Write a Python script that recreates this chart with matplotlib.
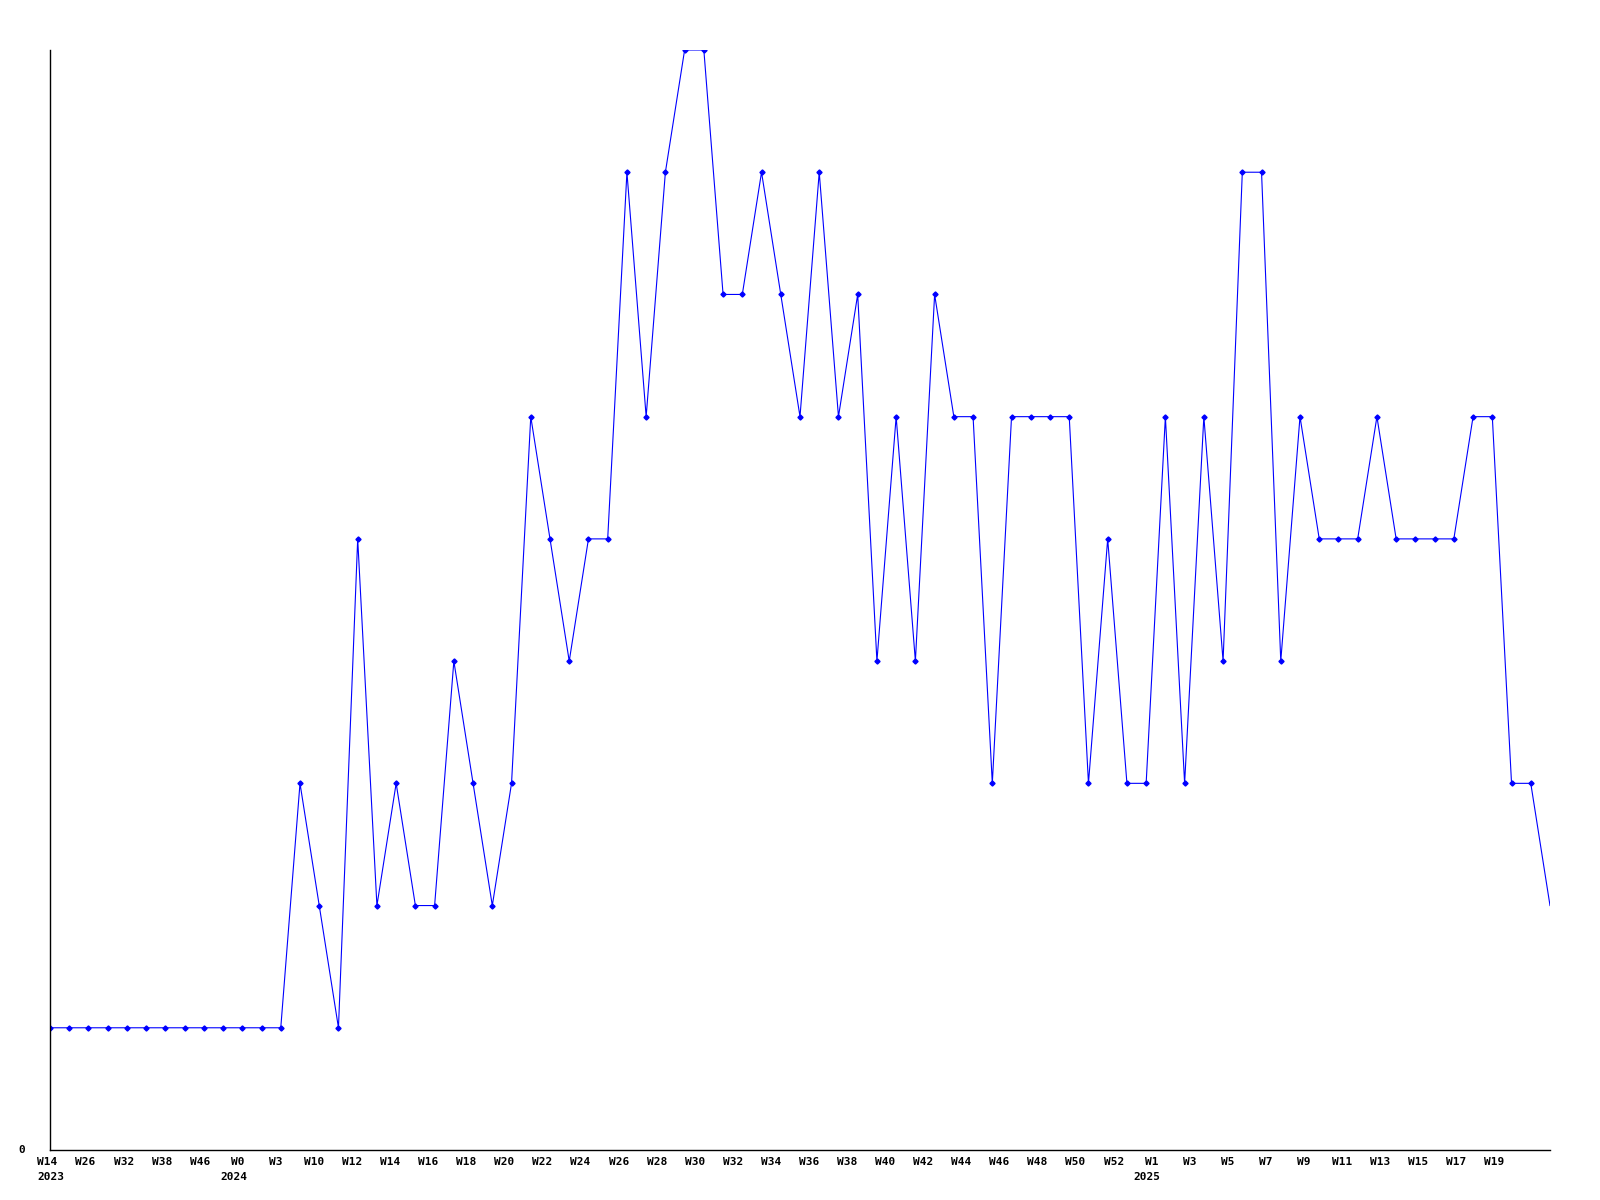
import numpy as np
import matplotlib
matplotlib.use("Agg")
import matplotlib.pyplot as plt
from matplotlib.transforms import offset_copy, blended_transform_factory

# weekly values, one per point
values = [1, 1, 1, 1, 1, 1, 1, 1, 1, 1, 1, 1, 1,
          3, 2, 1, 5, 2, 3, 2, 2, 4, 3, 2, 3,
          6, 5, 4, 5, 5, 8, 6, 8, 9, 9, 7, 7, 8, 7, 6, 8, 6, 7,
          4, 6, 4, 7, 6, 6, 3, 6, 6, 6, 6, 3, 5, 3, 3,
          6, 3, 6, 4, 8, 8, 4, 6, 5, 5, 5, 6, 5, 5, 5, 5, 6, 6,
          3, 3, 2]

week_labels = ["W14", "W26", "W32", "W38", "W46", "W0", "W3", "W10", "W12",
               "W14", "W16", "W18", "W20", "W22", "W24", "W26", "W28", "W30",
               "W32", "W34", "W36", "W38", "W40", "W42", "W44", "W46", "W48",
               "W50", "W52", "W1", "W3", "W5", "W7", "W9", "W11", "W13",
               "W15", "W17", "W19"]
year_labels = ["2023", "2024", "2025"]
year_pos = [0.05, 9.55, 57.05]

x = np.arange(len(values))
# labels sit every second point, drifting slightly left like the source
tick_pos = np.arange(0, 2 * len(week_labels), 2) * 0.99 - 0.13

fig = plt.figure(figsize=(16, 12), dpi=100)
ax = fig.add_axes([50 / 1600, 50 / 1200, 1500 / 1600, 1100 / 1200])

ax.plot(x, values, color="#0000ff", linewidth=0.8,
        marker="D", markersize=2.6, markevery=slice(0, len(values) - 1))

ax.set_xlim(0, len(values) - 1)
ax.set_ylim(0, 9)
ax.spines["top"].set_visible(False)
ax.spines["right"].set_visible(False)
ax.spines["left"].set_linewidth(1.0)
ax.spines["bottom"].set_linewidth(1.0)
ax.set_xticks([])
ax.set_yticks([])

font = dict(family="DejaVu Sans Mono", fontweight="bold", fontsize=8)
trans = blended_transform_factory(ax.transData, ax.transAxes)
week_tr = offset_copy(trans, fig=fig, y=-12, units="dots")
year_tr = offset_copy(trans, fig=fig, y=-27, units="dots")
for p, lab in zip(tick_pos, week_labels):
    ax.text(p, 0, lab, transform=week_tr, ha="center", va="center", **font)
for p, lab in zip(year_pos, year_labels):
    ax.text(p, 0, lab, transform=year_tr, ha="center", va="center", **font)

zero_tr = offset_copy(ax.transAxes, fig=fig, x=-28, units="dots")
ax.text(0, 0, "0", transform=zero_tr, ha="center", va="center", **font)

fig.savefig("out.png", dpi=100)
